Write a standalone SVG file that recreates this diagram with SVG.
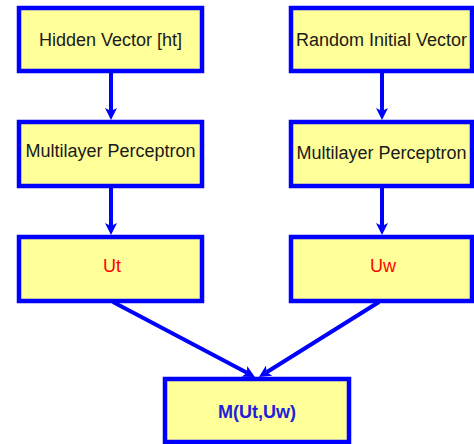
<svg xmlns="http://www.w3.org/2000/svg" width="474" height="444" viewBox="0 0 474 444">
<style>
.box{fill:#FFFF99;stroke:#0000FF;stroke-width:4.5}
.lbl{font-family:"Liberation Sans",Arial,sans-serif;font-size:18px;text-anchor:middle;fill:#1a1a1a}
.red{fill:#FF0000}
.res{fill:#2020D8;font-weight:bold}
.conn{stroke:#0000FF;stroke-width:4;fill:none}
</style>
<defs>
<marker id="arr" viewBox="0 0 12 12" refX="3" refY="6" markerWidth="12" markerHeight="12" markerUnits="userSpaceOnUse" orient="auto">
<path d="M0,0 L12,6 L0,12 L3,6 z" fill="#0000FF"/>
</marker>
</defs>
<rect width="474" height="444" fill="#FFFFFF"/>
<g id="connectors">
<line class="conn" x1="111" y1="73" x2="111" y2="111" marker-end="url(#arr)"/>
<line class="conn" x1="382" y1="73" x2="382" y2="111" marker-end="url(#arr)"/>
<line class="conn" x1="111" y1="188" x2="111" y2="226" marker-end="url(#arr)"/>
<line class="conn" x1="382" y1="188" x2="382" y2="226" marker-end="url(#arr)"/>
<line class="conn" x1="113" y1="302" x2="247" y2="372.8" marker-end="url(#arr)"/>
<line class="conn" x1="379" y1="302" x2="266.6" y2="372.2" marker-end="url(#arr)"/>
</g>
<g id="hidden">
<rect class="box" x="19" y="8" width="183" height="63"/>
<text class="lbl" x="110.5" y="46">Hidden Vector [ht]</text>
</g>
<g id="random">
<rect class="box" x="291" y="8" width="181" height="63"/>
<text class="lbl" x="381.5" y="46">Random Initial Vector</text>
</g>
<g id="mlp1">
<rect class="box" x="19" y="122" width="183" height="64"/>
<text class="lbl" x="110.5" y="157">Multilayer Perceptron</text>
</g>
<g id="mlp2">
<rect class="box" x="291" y="122" width="181" height="64"/>
<text class="lbl" x="381.5" y="159">Multilayer Perceptron</text>
</g>
<g id="ut">
<rect class="box" x="19" y="237" width="183" height="64"/>
<text class="lbl red" x="112" y="272">Ut</text>
</g>
<g id="uw">
<rect class="box" x="291" y="237" width="181" height="64"/>
<text class="lbl red" x="383" y="272">Uw</text>
</g>
<g id="m">
<rect class="box" x="165" y="379" width="184" height="63"/>
<text class="lbl res" x="257" y="418">M(Ut,Uw)</text>
</g>
</svg>
